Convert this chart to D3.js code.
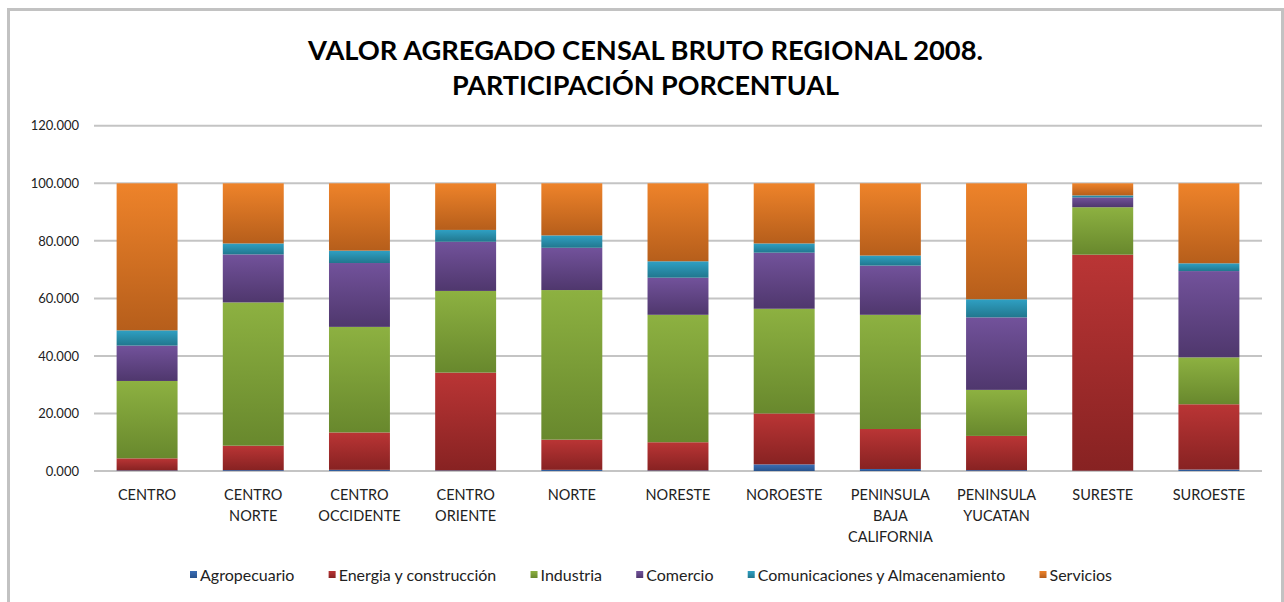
<!DOCTYPE html>
<html>
<head>
<meta charset="utf-8">
<script src="https://cdn.jsdelivr.net/npm/d3@7"></script>
<style>
  html, body { margin: 0; padding: 0; background: #fff; }
  svg { display: block; }
  text { font-family: Lato, "Open Sans", sans-serif; }
</style>
</head>
<body>
<svg id="chart" width="1284" height="602"></svg>
<script>
const categories = [
  ["CENTRO"],
  ["CENTRO", "NORTE"],
  ["CENTRO", "OCCIDENTE"],
  ["CENTRO", "ORIENTE"],
  ["NORTE"],
  ["NORESTE"],
  ["NOROESTE"],
  ["PENINSULA", "BAJA", "CALIFORNIA"],
  ["PENINSULA", "YUCATAN"],
  ["SURESTE"],
  ["SUROESTE"]
];
const seriesNames = ["Agropecuario", "Energia y construcción", "Industria", "Comercio", "Comunicaciones y Almacenamiento", "Servicios"];
const agropecuario   = [0.2, 0.3, 0.4, 0.2, 0.4, 0.2, 2.3, 0.7, 0.3, 0.1, 0.5];
const energia        = [4.2, 8.5, 13.0, 34.0, 10.5, 9.8, 17.7, 13.9, 11.9, 75.1, 22.7];
const industria      = [26.9, 49.8, 36.7, 28.4, 52.0, 44.3, 36.4, 39.7, 16.0, 16.5, 16.3];
const comercio       = [12.3, 16.7, 22.2, 17.1, 14.7, 12.9, 19.5, 17.1, 25.2, 3.4, 30.0];
const comunicaciones = [5.3, 3.8, 4.3, 4.1, 4.3, 5.7, 3.2, 3.5, 6.3, 0.7, 2.7];
const servicios      = [51.1, 20.9, 23.4, 16.2, 18.1, 27.1, 20.9, 25.1, 40.3, 4.2, 27.8];
const yTicks = [0, 20, 40, 60, 80, 100, 120];
const titleLines = ["VALOR AGREGADO CENSAL BRUTO REGIONAL 2008.", "PARTICIPACIÓN PORCENTUAL"];

const seriesValues = [agropecuario, energia, industria, comercio, comunicaciones, servicios];
const colorsTop    = ["#3B6EB6", "#BA3535", "#8DB141", "#72529B", "#2FA0C3", "#EE832A"];
const colorsBottom = ["#28528C", "#872222", "#68882D", "#4F376D", "#21778E", "#B65E1B"];

const keys = categories.map(c => c.join(" "));
const table = keys.map((k, i) => {
  const row = { key: k };
  seriesNames.forEach((s, j) => row[s] = seriesValues[j][i]);
  return row;
});

const svg = d3.select("#chart");
svg.append("rect").attr("width", 1284).attr("height", 602).attr("fill", "#fff");

// frame
svg.append("path")
  .attr("d", "M8.5,602 L8.5,9.5 L1282.5,9.5 L1282.5,602")
  .attr("fill", "none").attr("stroke", "#c2c2c2").attr("stroke-width", 3);

const defs = svg.append("defs");
seriesNames.forEach((s, j) => {
  const g = defs.append("linearGradient").attr("id", "grad" + j)
    .attr("x1", 0).attr("y1", 0).attr("x2", 0).attr("y2", 1);
  g.append("stop").attr("offset", "0%").attr("stop-color", colorsTop[j]);
  g.append("stop").attr("offset", "100%").attr("stop-color", colorsBottom[j]);
});

const x = d3.scaleBand().domain(keys).range([94, 1262]).paddingInner(0.426).paddingOuter(0.213);
const y = d3.scaleLinear().domain([0, 120]).range([471, 125.8]);

// gridlines
svg.append("g").selectAll("line").data(yTicks).join("line")
  .attr("x1", 94).attr("x2", 1262)
  .attr("y1", d => y(d)).attr("y2", d => y(d))
  .attr("stroke", "#c4c4c4").attr("stroke-width", 2);

// y axis labels
const yAxis = d3.axisLeft(y).tickValues(yTicks).tickFormat(d3.format(".3f")).tickSize(0).tickPadding(0);
const yg = svg.append("g").attr("transform", "translate(79,0)").call(yAxis);
yg.select(".domain").remove();
yg.selectAll("text").attr("font-size", 13).attr("fill", "#222").attr("font-family", "Lato, sans-serif");

// bars
const stack = d3.stack().keys(seriesNames)(table);
svg.append("g").selectAll("g").data(stack).join("g")
  .attr("fill", (d, j) => `url(#grad${j})`)
  .selectAll("rect").data(d => d).join("rect")
  .attr("x", d => x(d.data.key))
  .attr("width", x.bandwidth())
  .attr("y", d => y(d[1]))
  .attr("height", d => y(d[0]) - y(d[1]));

// x labels
const xl = svg.append("g");
categories.forEach((lines, i) => {
  const t = xl.append("text")
    .attr("x", x(keys[i]) + x.bandwidth() / 2)
    .attr("y", 499.5)
    .attr("text-anchor", "middle")
    .attr("font-size", 14.5).attr("fill", "#222");
  lines.forEach((ln, k) => t.append("tspan").attr("x", x(keys[i]) + x.bandwidth() / 2).attr("dy", k === 0 ? 0 : 21).text(ln));
});

// title
const tg = svg.append("g");
const titleWidths = [675, 387];
titleLines.forEach((ln, k) => {
  tg.append("text").attr("x", 645.5).attr("y", 59.5 + k * 35)
    .attr("text-anchor", "middle").attr("font-size", 27).attr("font-weight", "bold")
    .attr("textLength", titleWidths[k]).attr("lengthAdjust", "spacingAndGlyphs")
    .attr("fill", "#000").text(ln);
});

// legend
const lg = svg.append("g");
const items = seriesNames.map((s, j) => {
  const g = lg.append("g");
  g.append("rect").attr("width", 7).attr("height", 7).attr("y", -5).attr("fill", `url(#grad${j})`);
  const t = g.append("text").attr("x", 10).attr("y", 5).attr("font-size", 16).attr("fill", "#222").text(s);
  return { g, w: 10 + t.node().getComputedTextLength() };
});
const total = items.reduce((a, b) => a + b.w, 0);
const gap = (1112 - 190 - total) / (items.length - 1);
let cx = 190;
items.forEach(it => { it.g.attr("transform", `translate(${cx},576)`); cx += it.w + gap; });
</script>
</body>
</html>
